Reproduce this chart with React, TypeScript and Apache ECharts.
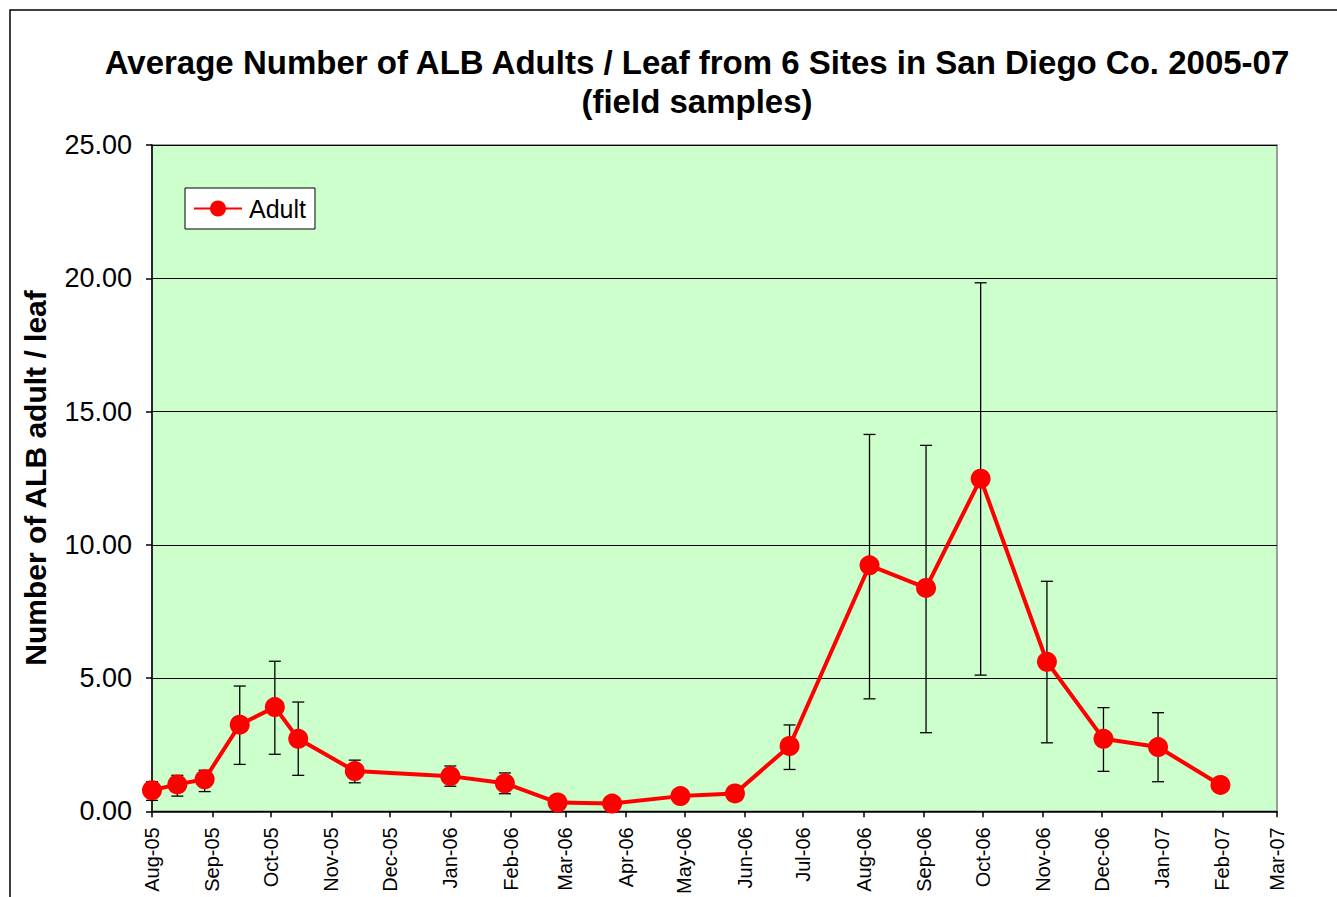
import React, { useEffect, useRef } from "react";
import * as echarts from "echarts";

const FONT = '"Liberation Sans", Arial, sans-serif';

const TITLE = "Average Number of ALB Adults / Leaf from 6 Sites in San Diego Co. 2005-07\n(field samples)";
const Y_TITLE = "Number of ALB adult / leaf";
const SERIES_NAME = "Adult";

const MONTHS = ["Jan", "Feb", "Mar", "Apr", "May", "Jun", "Jul", "Aug", "Sep", "Oct", "Nov", "Dec"];

const sampleDates = [
  "2005-08-01", "2005-08-14", "2005-08-28", "2005-09-15", "2005-10-03", "2005-10-15",
  "2005-11-13", "2006-01-01", "2006-01-29", "2006-02-25", "2006-03-25", "2006-04-29",
  "2006-05-27", "2006-06-24", "2006-08-04", "2006-09-02", "2006-09-30", "2006-11-03",
  "2006-12-02", "2006-12-30", "2007-01-31",
];
const adultMeans = [
  0.79, 1.01, 1.2, 3.25, 3.91, 2.72,
  1.51, 1.32, 1.05, 0.33, 0.29, 0.57,
  0.67, 2.45, 9.23, 8.38, 12.48, 5.61,
  2.72, 2.41, 0.99,
];
const errorUpper: (number | null)[] = [
  1.11, 1.35, 1.54, 4.7, 5.63, 4.1,
  1.92, 1.7, 1.44, null, null, null,
  null, 3.24, 14.14, 13.73, 19.83, 8.63,
  3.89, 3.7, null,
];
const errorLower: (number | null)[] = [
  0.41, 0.57, 0.74, 1.76, 2.14, 1.35,
  1.07, 0.94, 0.66, null, null, null,
  null, 1.57, 4.22, 2.95, 5.11, 2.57,
  1.5, 1.11, null,
];

const X_MIN = "2005-08-01";
const X_MAX = "2007-03-01";
const Y_MIN = 0;
const Y_MAX = 25;
const Y_STEP = 5;

function parseLocal(s: string): number {
  const [y, m, d] = s.split("-").map(Number);
  return new Date(y, m - 1, d).getTime();
}

export default function App() {
  const ref = useRef<HTMLDivElement>(null);

  useEffect(() => {
    if (!ref.current) return;
    const chart = echarts.init(ref.current, null, { renderer: "svg" });

    const lineData = sampleDates.map((d, i) => [parseLocal(d), adultMeans[i]]);
    const errData = sampleDates
      .map((d, i) => [parseLocal(d), errorUpper[i], errorLower[i]])
      .filter((r) => r[1] != null && r[2] != null);

    const option: any = {
      animation: false,
      backgroundColor: "#ffffff",
      textStyle: { fontFamily: FONT },
      title: {
        text: TITLE,
        left: 697,
        top: 43,
        padding: 0,
        textAlign: "center",
        textStyle: {
          fontFamily: FONT,
          fontSize: 33,
          fontWeight: "bold",
          color: "#000",
          lineHeight: 39,
        },
      },
      legend: {
        data: [SERIES_NAME],
        left: 185,
        top: 188,
        orient: "vertical",
        backgroundColor: "#ffffff",
        borderColor: "#000000",
        borderWidth: 1,
        padding: [8, 9, 8, 8],
        itemWidth: 48,
        itemHeight: 20,
        itemGap: 0,
        textStyle: { fontFamily: FONT, fontSize: 25, color: "#000", padding: [0, 0, 0, 2] },
      },
      grid: {
        left: 152,
        top: 145,
        right: 60,
        bottom: 85,
        show: true,
        backgroundColor: "#CCFFCC",
        borderColor: "#808080",
        borderWidth: 1.5,
      },
      xAxis: {
        type: "time",
        min: parseLocal(X_MIN),
        max: parseLocal(X_MAX),
        splitNumber: 19,
        minInterval: 28 * 24 * 3600 * 1000,
        maxInterval: 31 * 24 * 3600 * 1000,
        axisLine: { show: true, lineStyle: { color: "#000", width: 1.5 } },
        axisTick: { show: true, length: 6, lineStyle: { color: "#000", width: 1.5 } },
        splitLine: { show: false },
        axisLabel: {
          rotate: 90,
          margin: 16,
          fontSize: 20,
          color: "#000",
          fontFamily: FONT,
          hideOverlap: false,
          showMinLabel: true,
          showMaxLabel: true,
          formatter: (v: number) => {
            const d = new Date(v);
            return MONTHS[d.getMonth()] + "-" + String(d.getFullYear()).slice(2);
          },
        },
      },
      yAxis: {
        type: "value",
        min: Y_MIN,
        max: Y_MAX,
        interval: Y_STEP,
        axisLine: { show: true, lineStyle: { color: "#000", width: 1.5 } },
        axisTick: { show: true, length: 6, lineStyle: { color: "#000", width: 1.5 } },
        splitLine: { show: true, lineStyle: { color: "#000", width: 1 } },
        axisLabel: {
          margin: 20,
          fontSize: 27,
          color: "#000",
          fontFamily: FONT,
          formatter: (v: number) => v.toFixed(2),
        },
      },
      graphic: [
        {
          type: "rect",
          silent: true,
          z: -10,
          shape: { x: 10, y: 10, width: 1400, height: 1000 },
          style: { fill: "none", stroke: "#000", lineWidth: 1.5 },
        },
        {
          type: "text",
          silent: true,
          x: 35,
          y: 478,
          rotation: Math.PI / 2,
          style: {
            text: Y_TITLE,
            font: `bold 30px ${FONT}`,
            fill: "#000",
            textAlign: "center",
            textVerticalAlign: "middle",
          },
        },
      ],
      series: [
        {
          type: "custom",
          name: "err",
          z: 1,
          silent: true,
          clip: false,
          data: errData,
          encode: { x: 0, y: [1, 2] },
          renderItem: (params: any, api: any) => {
            const x = api.value(0);
            const top = api.coord([x, api.value(1)]);
            const bot = api.coord([x, api.value(2)]);
            const cap = 6;
            const style = { stroke: "#000", lineWidth: 1.3 };
            return {
              type: "group",
              children: [
                { type: "line", shape: { x1: top[0], y1: top[1], x2: bot[0], y2: bot[1] }, style },
                { type: "line", shape: { x1: top[0] - cap, y1: top[1], x2: top[0] + cap, y2: top[1] }, style },
                { type: "line", shape: { x1: bot[0] - cap, y1: bot[1], x2: bot[0] + cap, y2: bot[1] }, style },
              ],
            };
          },
        },
        {
          type: "line",
          name: SERIES_NAME,
          z: 3,
          data: lineData,
          color: "#FF0000",
          symbol: "circle",
          symbolSize: 20,
          lineStyle: { color: "#FF0000", width: 4 },
          itemStyle: { color: "#FF0000" },
        },
      ],
    };

    chart.setOption(option);
    return () => chart.dispose();
  }, []);

  return (
    <div
      ref={ref}
      style={{ position: "absolute", left: 0, top: 0, width: 1337, height: 897 }}
    />
  );
}
